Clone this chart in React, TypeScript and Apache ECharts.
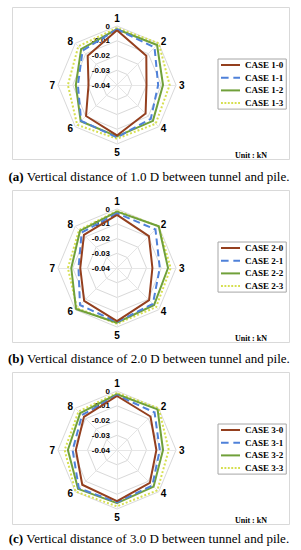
import React, { useEffect, useRef } from 'react';
import * as echarts from 'echarts';

// ---- data ----
const indicatorNames = ['1', '2', '3', '4', '5', '6', '7', '8'];
const radialMin = -0.04;
const radialMax = 0;
const radialSplits = 4;

const panelLetters = ['a', 'b', 'c'];
const panelDistances = ['1.0', '2.0', '3.0'];
const caseNames1 = ['CASE 1-0', 'CASE 1-1', 'CASE 1-2', 'CASE 1-3'];
const caseNames2 = ['CASE 2-0', 'CASE 2-1', 'CASE 2-2', 'CASE 2-3'];
const caseNames3 = ['CASE 3-0', 'CASE 3-1', 'CASE 3-2', 'CASE 3-3'];

// values listed for points 1..8 (clockwise from top)
const case1_0 = [-0.0029, -0.0119, -0.0200, -0.0126, -0.0058, -0.0103, -0.0207, -0.0119];
const case1_1 = [-0.0022, -0.0040, -0.0121, -0.0076, -0.0045, -0.0056, -0.0135, -0.0070];
const case1_2 = [-0.0022, -0.0016, -0.0088, -0.0056, -0.0052, -0.0052, -0.0121, -0.0056];
const case1_3 = [-0.0013, 0.0000, -0.0043, -0.0029, -0.0036, -0.0018, -0.0067, -0.0029];

const case2_0 = [-0.0040, -0.0094, -0.0160, -0.0092, -0.0040, -0.0085, -0.0151, -0.0083];
const case2_1 = [-0.0029, -0.0031, -0.0110, -0.0056, -0.0034, -0.0045, -0.0139, -0.0061];
const case2_2 = [-0.0018, 0.0000, -0.0054, -0.0045, -0.0029, -0.0007, -0.0090, -0.0045];
const case2_3 = [-0.0013, 0.0000, -0.0036, -0.0025, -0.0022, -0.0016, -0.0067, -0.0036];

const case3_0 = [-0.0034, -0.0079, -0.0133, -0.0085, -0.0054, -0.0067, -0.0121, -0.0083];
const case3_1 = [-0.0029, -0.0040, -0.0110, -0.0061, -0.0045, -0.0034, -0.0099, -0.0065];
const case3_2 = [-0.0022, -0.0011, -0.0088, -0.0049, -0.0040, -0.0027, -0.0067, -0.0047];
const case3_3 = [-0.0013, 0.0000, -0.0049, -0.0013, -0.0018, -0.0002, -0.0045, -0.0031];

const panelCases = [
  { names: caseNames1, values: [case1_0, case1_1, case1_2, case1_3] },
  { names: caseNames2, values: [case2_0, case2_1, case2_2, case2_3] },
  { names: caseNames3, values: [case3_0, case3_1, case3_2, case3_3] },
];

// ---- styles / layout ----
const caseColors = ['#943F1E', '#4F81D9', '#70A03A', '#D6DF50'];
const caseDash: any[] = ['solid', [7, 4], 'solid', [2, 2]];
const caseIcons = [
  'path://M0,0H20V2H0Z',
  'path://M0,0H8V2H0Z M13,0H20V2H13Z',
  'path://M0,0H20V2H0Z',
  'path://M0,0H2V2H0Z M3.6,0H5.6V2H3.6Z M7.2,0H9.2V2H7.2Z M10.8,0H12.8V2H10.8Z M14.4,0H16.4V2H14.4Z M18,0H20V2H18Z',
];
const boxTops = [7, 190, 372];
const boxHeight = 152;
const captionY = [176, 358, 538];

// ECharts places indicators counter-clockwise; reorder so that 1..8 run clockwise
const order = [0, 7, 6, 5, 4, 3, 2, 1];

export default function App() {
  const ref = useRef<HTMLDivElement>(null);
  useEffect(() => {
    if (!ref.current) return;
    const chart = echarts.init(ref.current, undefined, { renderer: 'svg' });

    const radars = boxTops.map((top) => ({
      center: [117, top + 78],
      radius: 59,
      startAngle: 90,
      shape: 'polygon',
      splitNumber: radialSplits,
      nameGap: 3,
      axisName: {
        color: '#000',
        fontSize: 10,
        fontWeight: 'bold',
        fontFamily: 'Liberation Sans',
      },
      indicator: order.map((k, j) => ({
        name: indicatorNames[k],
        min: radialMin,
        max: radialMax,
        ...(j === 0
          ? {
              axisLabel: {
                show: true,
                color: '#000',
                fontSize: 8,
                fontWeight: 'bold',
                fontFamily: 'Liberation Sans',
                margin: 7,
              },
            }
          : {}),
      })),
      axisLabel: { show: false },
      axisTick: { show: false },
      axisLine: { show: true, lineStyle: { color: '#E6E6E6', width: 1 } },
      splitLine: { show: true, lineStyle: { color: '#D9D9D9', width: 1 } },
      splitArea: { show: false },
    }));

    const series: any[] = [];
    panelCases.forEach((pc, p) => {
      for (let c = pc.values.length - 1; c >= 0; c--) {
        series.push({
          type: 'radar',
          name: pc.names[c],
          radarIndex: p,
          symbol: 'none',
          silent: true,
          lineStyle: { color: caseColors[c], width: 2, type: caseDash[c] },
          itemStyle: { color: caseColors[c] },
          data: [
            {
              name: pc.names[c],
              value: order.map((k) => pc.values[c][k]),
              lineStyle: { color: caseColors[c], width: 2, type: caseDash[c] },
              itemStyle: { color: caseColors[c] },
            },
          ],
        });
      }
    });

    const legends = panelCases.map((pc, p) => ({
      orient: 'vertical',
      left: 218,
      top: boxTops[p] + 52,
      itemWidth: 19,
      itemHeight: 2,
      itemGap: 2.7,
      padding: [1, 3, 1, 3],
      borderColor: '#A6A6A6',
      borderWidth: 1,
      selectedMode: false,
      symbolKeepAspect: false,
      textStyle: {
        fontFamily: 'Liberation Serif',
        fontWeight: 'bold',
        fontSize: 9,
        color: '#000',
        lineHeight: 10,
      },
      data: pc.names.map((n, i) => ({
        name: n,
        icon: caseIcons[i],
        itemStyle: { color: caseColors[i], borderWidth: 0 },
      })),
    }));

    const graphic: any[] = [];
    boxTops.forEach((top, p) => {
      graphic.push({
        type: 'rect',
        z: -10,
        silent: true,
        shape: { x: 12.5, y: top + 0.5, width: 277, height: boxHeight },
        style: { fill: '#fff', stroke: '#D9D9D9', lineWidth: 1 },
      });
      graphic.push({
        type: 'text',
        silent: true,
        x: 235,
        y: top + 148,
        style: {
          text: 'Unit : kN',
          fill: '#000',
          fontFamily: 'Liberation Serif',
          fontWeight: 'bold',
          fontSize: 8,
          verticalAlign: 'middle',
        },
      });
      graphic.push({
        type: 'text',
        silent: true,
        x: 149,
        y: captionY[p],
        style: {
          text: `{b|(${panelLetters[p]})} Vertical distance of ${panelDistances[p]} D between tunnel and pile.`,
          fill: '#000',
          fontFamily: 'Liberation Serif',
          fontSize: 13,
          align: 'center',
          verticalAlign: 'middle',
          rich: {
            b: { fontFamily: 'Liberation Serif', fontWeight: 'bold', fontSize: 13, fill: '#000' },
          },
        },
      });
    });

    chart.setOption({
      animation: false,
      backgroundColor: '#fff',
      radar: radars,
      legend: legends,
      series,
      graphic,
    });
    return () => chart.dispose();
  }, []);
  return (
    <div
      ref={ref}
      style={{ position: 'absolute', left: 0, top: 0, width: 301, height: 550 }}
    />
  );
}
